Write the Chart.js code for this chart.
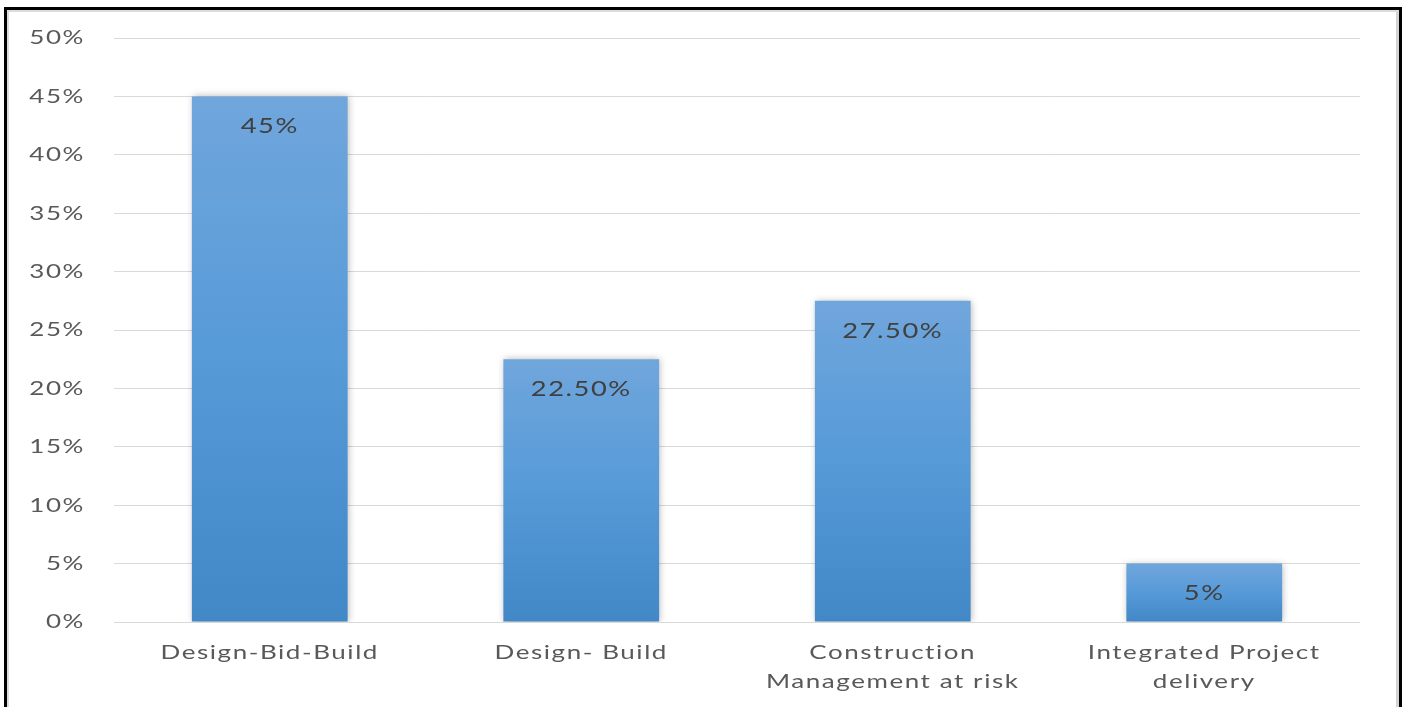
<!DOCTYPE html>
<html>
<head>
<meta charset="utf-8">
<script src="https://cdn.jsdelivr.net/npm/chart.js@4"></script>
<style>
  html, body { margin: 0; padding: 0; background: #fff; overflow: hidden; }
  #wrap { position: relative; width: 1405px; height: 707px; }
  #frame {
    position: absolute; left: 4px; top: 7px; width: 1392px; height: 720px;
    border: 3px solid #000; box-shadow: inset 2px 2px 0 #dcdcdc, inset -3px 0 0 #d4d4d4;
    pointer-events: none;
  }
  canvas { position: absolute; left: 0; top: 0; }
</style>
</head>
<body>
<div id="wrap">
  <canvas id="chart" width="1405" height="707"></canvas>
  <div id="frame"></div>
</div>
<script>
// 카테고리 / 값
const categories = [
  'Design-Bid-Build',
  'Design- Build',
  ['Construction', 'Management at risk'],
  ['Integrated Project', 'delivery'],
];
const shares = [45, 22.5, 27.5, 5];
const shareLabels = ['45%', '22.50%', '27.50%', '5%'];
const tickStep = 5;
const tickMax = 50;

const FONT = 'Lato, "Open Sans", sans-serif';
const TEXT_STRETCH = 1.3; // 글자 가로 늘림

// 막대마다 위→아래 그라데이션
function barGradient(ctx) {
  const chart = ctx.chart;
  const y = chart.scales.y;
  if (!y || ctx.dataIndex === undefined) return '#5b9bd5';
  const top = y.getPixelForValue(shares[ctx.dataIndex]);
  const bottom = y.getPixelForValue(0);
  if (!isFinite(top) || !isFinite(bottom) || top === bottom) return '#5b9bd5';
  const g = chart.ctx.createLinearGradient(0, top, 0, bottom);
  g.addColorStop(0, '#70a6dc');
  g.addColorStop(0.5, '#569ad8');
  g.addColorStop(1, '#4287c6');
  return g;
}

// 텍스트를 가로로 늘려서 그리기
const wideText = {
  id: 'wideText',
  beforeInit(chart) {
    const c = chart.ctx;
    const baseFill = CanvasRenderingContext2D.prototype.fillText;
    c.fillText = function (text, x, y) {
      this.save();
      this.translate(x, y);
      this.scale(TEXT_STRETCH, 1);
      this.letterSpacing = '1.2px';
      baseFill.call(this, text, 0, 0);
      this.restore();
    };
  },
};

// 막대 그림자
const barShadow = {
  id: 'barShadow',
  beforeDatasetDraw(chart) {
    const c = chart.ctx;
    c.save();
    c.shadowColor = 'rgba(0,0,0,0.28)';
    c.shadowBlur = 7;
    c.shadowOffsetX = 1;
    c.shadowOffsetY = 0;
  },
  afterDatasetDraw(chart) {
    chart.ctx.restore();
  },
};

// 막대 안쪽 위에 값 표시
const valueLabels = {
  id: 'valueLabels',
  afterDatasetsDraw(chart) {
    const c = chart.ctx;
    const meta = chart.getDatasetMeta(0);
    c.save();
    c.font = '21px ' + FONT;
    c.fillStyle = '#404040';
    c.textAlign = 'center';
    c.textBaseline = 'middle';
    meta.data.forEach((bar, i) => {
      c.fillText(shareLabels[i], bar.x, bar.y + 30);
    });
    c.restore();
  },
};

new Chart(document.getElementById('chart'), {
  type: 'bar',
  data: {
    labels: categories,
    datasets: [
      {
        data: shares,
        backgroundColor: barGradient,
        borderWidth: 0,
        categoryPercentage: 1,
        barPercentage: 0.5,
      },
    ],
  },
  options: {
    responsive: false,
    animation: false,
    devicePixelRatio: 1,
    layout: { padding: { left: 0, right: 45, top: 38, bottom: 0 } },
    plugins: {
      legend: { display: false },
      tooltip: { enabled: false },
    },
    scales: {
      x: {
        grid: { display: false, drawTicks: false },
        border: { display: false },
        ticks: {
          color: '#595959',
          font: { family: FONT, size: 20, lineHeight: 1.45 },
          padding: 16,
          maxRotation: 0,
          autoSkip: false,
        },
        afterFit(scale) {
          scale.height = 85;
        },
      },
      y: {
        min: 0,
        max: tickMax,
        grid: { color: '#d9d9d9', lineWidth: 1, drawTicks: false },
        border: { display: false },
        ticks: {
          stepSize: tickStep,
          color: '#595959',
          font: { family: FONT, size: 20 },
          padding: 29,
          callback: (v) => v + '%',
        },
        afterFit(scale) {
          scale.width = 114;
          scale.paddingTop = 0;
          scale.paddingBottom = 0;
        },
      },
    },
  },
  plugins: [wideText, barShadow, valueLabels],
});
</script>
</body>
</html>
